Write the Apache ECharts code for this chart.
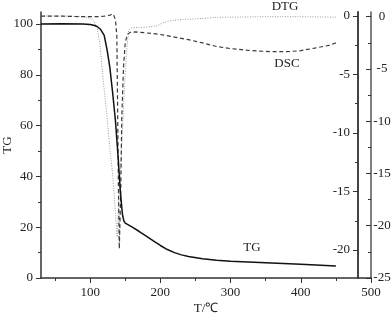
<!DOCTYPE html>
<html>
<head>
<meta charset="utf-8">
<script src="https://cdn.jsdelivr.net/npm/echarts@6/dist/echarts.min.js"></script>
<style>
html,body{margin:0;padding:0;background:#fff;}
#c{width:392px;height:320px;}
</style>
</head>
<body>
<div id="c"></div>
<script>
// Temperature (°C) and TG (%)
var tgT = [30, 60, 90, 100, 105, 110, 115, 120, 124, 128, 132, 136, 140, 143, 146, 148, 150, 160, 170, 180, 190, 200, 210, 220, 230, 240, 260, 280, 300, 350, 400, 450];
var tgV = [100, 100.1, 100, 99.8, 99.5, 99, 97.8, 95.5, 90, 83, 73, 62, 47, 34, 25, 22.5, 21.6, 20, 18.3, 16.5, 14.6, 12.8, 11.2, 10, 9.1, 8.5, 7.6, 7.0, 6.6, 6.0, 5.4, 4.7];
// DTG (inner right axis)
var dtgT = [30, 60, 90, 100, 105, 110, 114, 119, 124, 128, 132, 136, 138.5, 141, 145, 149, 152, 155, 160, 180, 195, 205, 215, 230, 250, 280, 350, 400, 450];
var dtgV = [0, 0, -0.05, -0.2, -0.4, -1.0, -2.5, -5.7, -8.6, -11.3, -13.5, -16.8, -18.9, -15.5, -11, -6, -3, -1.2, -1.0, -0.95, -0.85, -0.55, -0.4, -0.3, -0.25, -0.12, -0.06, -0.06, -0.1];
// DSC (outer right axis)
var dscT = [30, 60, 90, 100, 110, 120, 128, 133, 136, 138, 139, 140.3, 141.5, 143.5, 145, 147.5, 150, 153, 157, 165, 180, 200, 220, 240, 260, 280, 300, 330, 360, 380, 400, 420, 440, 450];
var dscV = [0.05, 0.05, 0.0, 0.0, 0.0, 0.05, 0.15, 0.25, -0.3, -1.8, -8, -16.5, -22.2, -17, -9.8, -4.8, -2.5, -1.7, -1.5, -1.45, -1.55, -1.7, -1.95, -2.2, -2.5, -2.85, -3.05, -3.25, -3.35, -3.35, -3.25, -3.0, -2.75, -2.5];
// tick values
var xMajor = [100, 200, 300, 400, 500];
var xMinor = [50, 150, 250, 350, 450];
var tgMajor = [0, 20, 40, 60, 80, 100];
var tgMinor = [10, 30, 50, 70, 90];
var dtgMajor = [-20, -15, -10, -5, 0];
var dtgMinor = [-22.5, -17.5, -12.5, -7.5, -2.5];
var dscMajor = [-25, -20, -15, -10, -5, 0];
var dscMinor = [-22.5, -17.5, -12.5, -7.5, -2.5];

function pairs(a, b) { return a.map(function (v, i) { return [v, b[i]]; }); }

var FONT = 'Liberation Serif';
var TXT = '#222';
var AX = '#333';

var chart = echarts.init(document.getElementById('c'), null, {renderer: 'canvas'});
var option = {
  animation: false,
  grid: {left: 41, right: 21, top: 12, bottom: 42, containLabel: false, outerBoundsMode: 'none'},
  textStyle: {fontFamily: FONT},
  xAxis: [
    {
      type: 'value', min: 30, max: 500, position: 'bottom',
      name: 'T/\u2103', nameLocation: 'middle', nameGap: 24, nameMoveOverlap: false,
      nameTextStyle: {fontFamily: FONT, fontSize: 13, color: TXT},
      axisLine: {show: true, onZero: false, lineStyle: {color: AX, width: 1.5}},
      axisTick: {show: true, length: 5, customValues: xMajor, lineStyle: {color: AX, width: 1}},
      axisLabel: {customValues: xMajor, fontFamily: FONT, fontSize: 13, color: TXT, margin: 8},
      splitLine: {show: false}
    },
    {
      type: 'value', min: 30, max: 500, position: 'bottom',
      axisLine: {show: false, onZero: false},
      axisTick: {show: true, length: 3, customValues: xMinor, lineStyle: {color: AX, width: 1}},
      axisLabel: {show: false},
      splitLine: {show: false}
    }
  ],
  yAxis: [
    {
      type: 'value', min: 0, max: 104.7, position: 'left',
      name: 'TG', nameLocation: 'middle', nameGap: 27, nameMoveOverlap: false,
      nameTextStyle: {fontFamily: FONT, fontSize: 13, color: TXT},
      axisLine: {show: true, onZero: false, lineStyle: {color: AX, width: 1.5}},
      axisTick: {show: true, length: 5, customValues: tgMajor, lineStyle: {color: AX, width: 1}},
      axisLabel: {customValues: tgMajor, fontFamily: FONT, fontSize: 13, color: TXT, margin: 8},
      splitLine: {show: false}
    },
    {
      type: 'value', min: -22.39, max: 0.34, position: 'right', offset: -13,
      axisLine: {show: true, onZero: false, lineStyle: {color: '#444', width: 2}},
      axisTick: {show: true, inside: true, length: 5, customValues: dtgMajor, lineStyle: {color: AX, width: 1}},
      axisLabel: {inside: true, customValues: dtgMajor, fontFamily: FONT, fontSize: 13, color: TXT, margin: 8},
      splitLine: {show: false}
    },
    {
      type: 'value', min: -25, max: 0.45, position: 'right', offset: 0,
      axisLine: {show: true, onZero: false, lineStyle: {color: '#555', width: 1.5}},
      axisTick: {show: true, inside: true, length: 5, customValues: dscMajor, lineStyle: {color: AX, width: 1}},
      axisLabel: {customValues: dscMajor, fontFamily: FONT, fontSize: 13, color: TXT, margin: 11, align: 'center'},
      splitLine: {show: false}
    },
    {
      type: 'value', min: 0, max: 104.7, position: 'left',
      axisLine: {show: false, onZero: false},
      axisTick: {show: true, length: 3, customValues: tgMinor, lineStyle: {color: AX, width: 1}},
      axisLabel: {show: false}, splitLine: {show: false}
    },
    {
      type: 'value', min: -22.39, max: 0.34, position: 'right', offset: -13,
      axisLine: {show: false, onZero: false},
      axisTick: {show: true, inside: true, length: 3, customValues: dtgMinor, lineStyle: {color: AX, width: 1}},
      axisLabel: {show: false}, splitLine: {show: false}
    },
    {
      type: 'value', min: -25, max: 0.45, position: 'right', offset: 0,
      axisLine: {show: false, onZero: false},
      axisTick: {show: true, inside: true, length: 3, customValues: dscMinor, lineStyle: {color: AX, width: 1}},
      axisLabel: {show: false}, splitLine: {show: false}
    }
  ],
  series: [
    {
      name: 'DTG', type: 'line', xAxisIndex: 0, yAxisIndex: 1, data: pairs(dtgT, dtgV),
      showSymbol: false, symbol: 'none', clip: false,
      lineStyle: {color: '#9a9a9a', width: 1, type: [1, 1.5]}
    },
    {
      name: 'DSC', type: 'line', xAxisIndex: 0, yAxisIndex: 2, data: pairs(dscT, dscV),
      showSymbol: false, symbol: 'none', clip: false,
      lineStyle: {color: '#3a3a3a', width: 1.2, type: [4, 2.7]}
    },
    {
      name: 'TG', type: 'line', xAxisIndex: 0, yAxisIndex: 0, data: pairs(tgT, tgV),
      showSymbol: false, symbol: 'none', clip: false,
      lineStyle: {color: '#111', width: 1.5}
    }
  ],
  graphic: [
    {type: 'text', x: 285, y: 7, style: {text: 'DTG', font: '13px "Liberation Serif"', fill: TXT, textAlign: 'center', textVerticalAlign: 'middle'}},
    {type: 'text', x: 287, y: 64, style: {text: 'DSC', font: '13px "Liberation Serif"', fill: TXT, textAlign: 'center', textVerticalAlign: 'middle'}},
    {type: 'text', x: 252, y: 248, style: {text: 'TG', font: '13px "Liberation Serif"', fill: TXT, textAlign: 'center', textVerticalAlign: 'middle'}}
  ]
};
chart.setOption(option);
</script>
</body>
</html>
